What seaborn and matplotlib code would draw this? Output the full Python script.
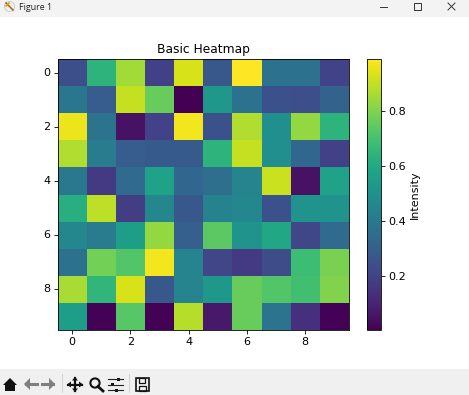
import numpy as np
import seaborn as sns
import matplotlib
matplotlib.use("Agg")
import matplotlib.pyplot as plt
from matplotlib.lines import Line2D
from matplotlib.patches import Rectangle, Polygon, Circle

W, H = 469, 395

# Valores
row0 = [0.24, 0.64, 0.85, 0.19, 0.93, 0.27, 0.99, 0.37, 0.37, 0.20]
row1 = [0.39, 0.29, 0.90, 0.76, 0.005, 0.53, 0.37, 0.25, 0.24, 0.31]
row2 = [0.96, 0.38, 0.05, 0.20, 0.97, 0.25, 0.87, 0.49, 0.83, 0.64]
row3 = [0.87, 0.41, 0.29, 0.28, 0.28, 0.64, 0.90, 0.49, 0.33, 0.19]
row4 = [0.40, 0.17, 0.34, 0.57, 0.33, 0.36, 0.45, 0.91, 0.05, 0.57]
row5 = [0.62, 0.89, 0.18, 0.46, 0.27, 0.44, 0.46, 0.25, 0.51, 0.51]
row6 = [0.46, 0.41, 0.55, 0.83, 0.30, 0.74, 0.51, 0.59, 0.21, 0.34]
row7 = [0.37, 0.78, 0.72, 0.97, 0.45, 0.21, 0.17, 0.23, 0.68, 0.79]
row8 = [0.86, 0.65, 0.93, 0.27, 0.45, 0.53, 0.76, 0.72, 0.69, 0.80]
row9 = [0.55, 0.01, 0.73, 0.01, 0.88, 0.07, 0.76, 0.38, 0.14, 0.01]
matrix_data = np.array([row0, row1, row2, row3, row4, row5, row6, row7, row8, row9])


def box(x0, y0, x1, y1):
    # pixels da imagem (origem no topo) -> coordenadas da figura
    return [x0 / W, 1 - y1 / H, (x1 - x0) / W, (y1 - y0) / H]


fig = plt.figure(figsize=(W / 100, H / 100), dpi=100, facecolor="white")
ax = fig.add_axes(box(57.5, 59, 349, 330))
cax = fig.add_axes(box(367, 59, 381, 330))

sns.heatmap(matrix_data, cmap="viridis", vmin=0.005, vmax=0.988, square=False,
            xticklabels=2, yticklabels=2, ax=ax, cbar_ax=cax,
            cbar_kws={"label": "Intensity", "ticks": [0.2, 0.4, 0.6, 0.8]})

ax.set_title("Basic Heatmap", fontsize=8.8, pad=4)
ax.tick_params(labelsize=8, length=2.6, width=0.6, pad=2.5, labelrotation=0)
for s in ax.spines.values():
    s.set_visible(True)
    s.set_linewidth(0.6)

cb = ax.collections[0].colorbar
cb.outline.set_visible(True)
cb.outline.set_linewidth(0.6)
cb.ax.tick_params(labelsize=8, length=2.6, width=0.6, pad=2.5)
cb.set_label("Intensity", fontsize=8, labelpad=3)

# Moldura da janela
over = fig.add_axes([0, 0, 1, 1], zorder=5)
over.set_xlim(0, W)
over.set_ylim(H, 0)
over.axis("off")
over.add_patch(Rectangle((0, 0), W, 17, color="#f3f3f3", lw=0))
over.add_patch(Rectangle((0, 369), W, 26, color="#f0f0f0", lw=0))
over.text(19, 7.5, "Figure 1", fontsize=6.4, family="Open Sans", color="#222222", va="center")

# icone da janela
over.add_patch(Circle((9.5, 6.5), 5, fc="#f7f3ea", ec="#bbbbbb", lw=0.5))
over.add_line(Line2D([6, 13], [3, 10], color="#b06a30", lw=1.2))
over.add_line(Line2D([6, 9], [6, 3], color="#d9a030", lw=1.2))

# botoes da janela
over.add_line(Line2D([380, 387], [6.5, 6.5], color="#333333", lw=0.7))
over.add_patch(Rectangle((414, 3), 6.5, 6.5, fc="none", ec="#333333", lw=0.7))
over.add_line(Line2D([448, 455], [3, 10], color="#333333", lw=0.7))
over.add_line(Line2D([448, 455], [10, 3], color="#333333", lw=0.7))

# barra de ferramentas
over.add_patch(Polygon([(3, 385), (10, 378), (17, 385), (15, 385), (15, 391), (5, 391), (5, 385)],
                       fc="#111111", lw=0))
for xa, xb in [(37, 24), (42, 55)]:
    d = 1 if xb > xa else -1
    over.add_line(Line2D([xa, xb - 2 * d], [384, 384], color="#808080", lw=2.2))
    over.add_patch(Polygon([(xb, 384), (xb - 6 * d, 378), (xb - 6 * d, 390)], fc="#808080", lw=0))
over.add_line(Line2D([62, 62], [374, 392], color="#cccccc", lw=0.6))
over.add_line(Line2D([68, 82], [384.5, 384.5], color="#111111", lw=1.6))
over.add_line(Line2D([75, 75], [378, 391], color="#111111", lw=1.6))
for p in [[(67, 384.5), (71, 381.5), (71, 387.5)], [(83, 384.5), (79, 381.5), (79, 387.5)],
          [(75, 377), (72, 380.5), (78, 380.5)], [(75, 392), (72, 388.5), (78, 388.5)]]:
    over.add_patch(Polygon(p, fc="#111111", lw=0))
over.add_patch(Circle((95, 383), 4.6, fc="none", ec="#111111", lw=1.5))
over.add_line(Line2D([98, 103], [386.5, 391], color="#111111", lw=2))
for y, xm in [(379, 118), (384.5, 112), (390, 116)]:
    over.add_line(Line2D([108, 123], [y, y], color="#222222", lw=0.8))
    over.add_patch(Rectangle((xm - 1.5, y - 1.5), 3, 3, fc="#111111", lw=0))
over.add_line(Line2D([129, 129], [374, 392], color="#cccccc", lw=0.6))
over.add_patch(Rectangle((135.5, 378), 13.5, 13, fc="none", ec="#111111", lw=1.2))
over.add_patch(Rectangle((138.5, 378), 6.5, 4.5, fc="none", ec="#111111", lw=0.9))
over.add_patch(Rectangle((138.5, 386), 7, 5, fc="none", ec="#111111", lw=0.9))

fig.savefig("out.png", dpi=100)
